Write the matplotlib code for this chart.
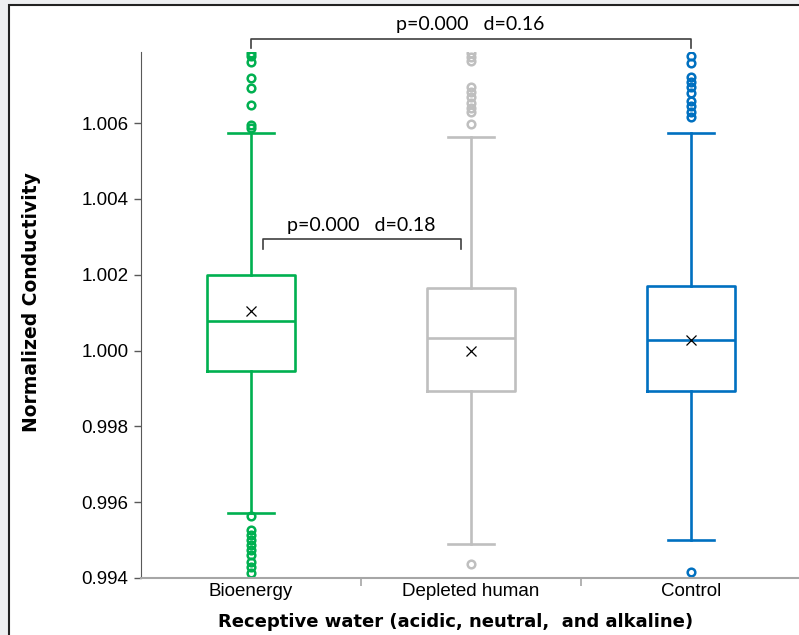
import numpy as np
import matplotlib.pyplot as plt
from matplotlib.patches import Rectangle

# categorieen en boxplot-statistieken
groepen = ['Bioenergy', 'Depleted human', 'Control']
kleuren = ['#00B050', '#BFBFBF', '#0070C0']
q1 = [0.99947, 0.99892, 0.99892]
mediaan = [1.00079, 1.00034, 1.00029]
q3 = [1.00198, 1.00164, 1.00169]
gemiddelde = [1.00105, 1.00000, 1.00027]
whisker_laag = [0.99571, 0.99490, 0.99500]
whisker_hoog = [1.00574, 1.00563, 1.00574]
uitschieters = [
    [1.00785, 1.00777, 1.00761, 1.00719, 1.00692, 1.00647, 1.00595, 1.00587,
     0.99564, 0.99527, 0.99513, 0.99500, 0.99487, 0.99474, 0.99461, 0.99442,
     0.99429, 0.99413],
    [1.00785, 1.00774, 1.00764, 1.00695, 1.00682, 1.00669, 1.00653, 1.00640,
     1.00629, 1.00597, 0.99437],
    [1.00777, 1.00758, 1.00721, 1.00708, 1.00695, 1.00679, 1.00658, 1.00645,
     1.00629, 1.00616, 0.99416],
]
y_ticks = [0.994, 0.996, 0.998, 1.000, 1.002, 1.004, 1.006]

# vergelijkingen: (x links, x rechts, hoogte, tekst)
vergelijkingen = [
    (1.055, 1.955, 1.00293, 'p=0.000   d=0.18'),
    (1.0, 3.0, 1.00822, 'p=0.000   d=0.16'),
]

fig = plt.figure(figsize=(7.99, 6.35), dpi=100)
fig.patch.set_facecolor('#EEEFF1')
fig.patches.append(Rectangle((9/799, -0.05), 1.0, 1 - 5/635 + 0.05,
                             transform=fig.transFigure, facecolor='white',
                             edgecolor='#222222', linewidth=1.5, zorder=-1))

ax = fig.add_axes([141/799, 57/635, 660/799, 526/635])
ax.set_facecolor('none')

stats = []
for i in range(len(groepen)):
    stats.append(dict(med=mediaan[i], q1=q1[i], q3=q3[i], mean=gemiddelde[i],
                      whislo=whisker_laag[i], whishi=whisker_hoog[i],
                      fliers=uitschieters[i], label=groepen[i]))

for i, s in enumerate(stats):
    c = kleuren[i]
    ax.bxp([s], positions=[i + 1], widths=0.4, capwidths=0.21, showmeans=True,
           boxprops=dict(color=c, linewidth=1.9),
           whiskerprops=dict(color=c, linewidth=1.9),
           capprops=dict(color=c, linewidth=1.9),
           medianprops=dict(color=c, linewidth=1.9),
           meanprops=dict(marker='x', markeredgecolor='black', markersize=7.5,
                          markeredgewidth=0.9),
           flierprops=dict(marker='o', markerfacecolor='none', markeredgecolor=c,
                           markersize=5.5, markeredgewidth=1.8))

ax.set_xlim(0.5, 3.5)
ax.set_ylim(0.994, 1.007873)
ax.set_yticks(y_ticks)
ax.set_yticklabels([f'{v:.3f}' for v in y_ticks], fontsize=13.5,
                   family='Liberation Sans')
ax.set_xticks([1.5, 2.5])
ax.set_xticklabels([])
ax.tick_params(axis='x', length=6, color='#A6A6A6', width=1.2)
ax.tick_params(axis='y', length=5, color='#595959', width=1.0, pad=4)
for i, g in enumerate(groepen):
    ax.text(i + 1, -0.01, g, transform=ax.get_xaxis_transform(),
            ha='center', va='top', fontsize=13.5, family='Liberation Sans')

ax.spines['top'].set_visible(False)
ax.spines['right'].set_visible(False)
ax.spines['left'].set_color('#595959')
ax.spines['bottom'].set_color('#A6A6A6')
ax.spines['bottom'].set_linewidth(1.5)

# vergelijkingshaken
for a, b, h, tekst in vergelijkingen:
    ax.plot([a, a, b, b], [h - 0.00024, h, h, h - 0.00024], color='#404040',
            linewidth=1.2, clip_on=False)
    ax.text((a + b) / 2 - 0.005, h + 0.00015, tekst, ha='center', va='bottom',
            fontsize=14, family='Lato', clip_on=False)

fig.text(32/799, 1 - 302/635, 'Normalized Conductivity', rotation=90,
         ha='center', va='center', fontsize=13.5, fontweight='bold',
         family='DejaVu Sans')
fig.text(456/799, 1 - 622/635, 'Receptive water (acidic, neutral,  and alkaline)',
         ha='center', va='center', fontsize=13, fontweight='bold',
         family='DejaVu Sans')

fig.savefig('out.png', dpi=100)
